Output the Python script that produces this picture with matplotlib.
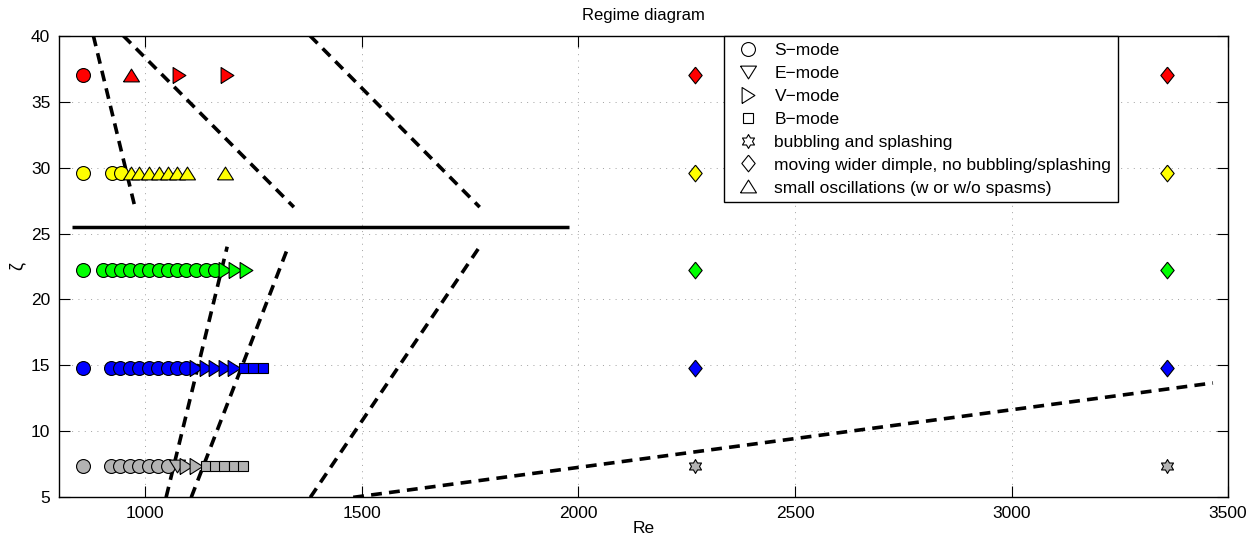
import numpy as np
import matplotlib
matplotlib.use("Agg")
import matplotlib.pyplot as plt
from matplotlib.lines import Line2D

plt.rcParams['font.family'] = ['Liberation Sans', 'DejaVu Sans']

# ---------------- data ----------------
zeta_levels = [37.0, 29.6, 22.2, 14.8, 7.4]
row_colors = ['#ff0000', '#ffff00', '#00ff00', '#0000ff', '#b3b3b3']

# Re values per row and regime (S, E, V, B, bubbling, dimple, small osc.)
red_S = [857]
red_T = [967]
red_V = [1078, 1188]
red_D = [2270, 3360]

yellow_S = [857, 922, 944]
yellow_T = [967, 986, 1008, 1031, 1052, 1074, 1097, 1184]
yellow_D = [2270, 3360]

green_S = [857, 903, 922, 944, 965, 987, 1008, 1031, 1052, 1074, 1095, 1118, 1139, 1161]
green_V = [1185, 1207, 1232]
green_D = [2270, 3360]

blue_S = [857, 921, 942, 964, 986, 1008, 1030, 1052, 1074, 1095]
blue_V = [1118, 1140, 1161, 1184, 1205]
blue_B = [1227, 1249, 1271]
blue_D = [2270, 3360]

gray_S = [857, 921, 942, 964, 986, 1008, 1030, 1052]
gray_E = [1074]
gray_V = [1095, 1118]
gray_B = [1139, 1161, 1182, 1205, 1226]
gray_H = [2270, 3360]

# regime boundaries (Re endpoints, zeta endpoints)
solid_Re = [830, 1978]
solid_zeta = [25.5, 25.5]
dashed_Re = [[880, 976], [949, 1343], [1380, 1772],
             [1048, 1189], [1106, 1330], [1381, 1772], [1480, 3465]]
dashed_zeta = [[40, 27], [40, 27], [40, 27],
               [5, 24], [5, 24], [5, 24], [5, 13.67]]

legend_labels = ['S\u2212mode', 'E\u2212mode', 'V\u2212mode', 'B\u2212mode',
                 'bubbling and splashing',
                 'moving wider dimple, no bubbling/splashing',
                 'small oscillations (w or w/o spasms)']

# ---------------- marker shapes ----------------
tri_up = [(-1, -0.8), (1, -0.8), (0, 0.8), (-1, -0.8)]
tri_down = [(-1, 0.8), (1, 0.8), (0, -0.8), (-1, 0.8)]
tri_right = [(-0.8, -1), (-0.8, 1), (0.8, 0), (-0.8, -1)]
diamond = [(0, 1), (0.8, 0), (0, -1), (-0.8, 0), (0, 1)]
ang = np.pi / 2 + np.arange(12) * np.pi / 6
rad = np.where(np.arange(12) % 2 == 0, 1.0, 0.577)
hexagram = list(zip(rad * np.cos(ang), rad * np.sin(ang)))
hexagram.append(hexagram[0])

styles = {
    'S': dict(marker='o', ms=10.0),
    'E': dict(marker=tri_down, ms=11.5),
    'V': dict(marker=tri_right, ms=11.5),
    'B': dict(marker='s', ms=7.0),
    'H': dict(marker=hexagram, ms=10.0),
    'D': dict(marker=diamond, ms=12.0),
    'T': dict(marker=tri_up, ms=11.5),
}

rows = [
    (zeta_levels[0], row_colors[0], [('S', red_S), ('T', red_T), ('V', red_V), ('D', red_D)]),
    (zeta_levels[1], row_colors[1], [('S', yellow_S), ('T', yellow_T), ('D', yellow_D)]),
    (zeta_levels[2], row_colors[2], [('S', green_S), ('V', green_V), ('D', green_D)]),
    (zeta_levels[3], row_colors[3], [('S', blue_S), ('V', blue_V), ('B', blue_B), ('D', blue_D)]),
    (zeta_levels[4], row_colors[4], [('S', gray_S), ('E', gray_E), ('V', gray_V), ('B', gray_B), ('H', gray_H)]),
]

FS = 12.5

# ---------------- figure ----------------
fig = plt.figure(figsize=(12.57, 5.40), dpi=100)
ax = fig.add_axes([0.0467, 0.079, 0.9303, 0.855])

for zeta, col, groups in rows:
    for key, res in groups:
        st = styles[key]
        for r in res:
            ax.plot([r], [zeta], linestyle='none', marker=st['marker'], ms=st['ms'],
                    mfc=col, mec='black', mew=0.8, zorder=3)

ax.plot(solid_Re, solid_zeta, color='black', lw=2.5, zorder=2, solid_capstyle='butt')
for xs, ys in zip(dashed_Re, dashed_zeta):
    ax.plot(xs, ys, color='black', lw=2.6, dashes=(3.0, 2.0), zorder=2,
            dash_capstyle='butt')

ax.set_xlim(800, 3500)
ax.set_ylim(5, 40)
ax.set_xticks([1000, 1500, 2000, 2500, 3000, 3500])
ax.set_yticks([5, 10, 15, 20, 25, 30, 35, 40])
ax.grid(True, color='#a0a0a0', lw=0.7, dashes=(1, 5.5))
ax.set_axisbelow(True)
ax.tick_params(direction='in', length=8, width=0.8, top=True, right=True,
               labelsize=FS, pad=6)
for s in ax.spines.values():
    s.set_linewidth(1.0)

ax.set_xlabel('Re', fontsize=FS, labelpad=0)
ax.set_ylabel('\u03b6', fontsize=FS + 0.5, labelpad=4)
ax.set_title('Regime diagram', fontsize=FS - 0.5, pad=11)

handle_keys = ['S', 'E', 'V', 'B', 'H', 'D', 'T']
handles = [Line2D([], [], linestyle='none', marker=styles[k]['marker'],
                  ms=styles[k]['ms'], mfc='white', mec='black', mew=0.8)
           for k in handle_keys]
leg = ax.legend(handles, legend_labels, loc='upper left', bbox_to_anchor=(0.569, 1.0),
                borderaxespad=0, fontsize=FS, fancybox=False, framealpha=1,
                edgecolor='black', labelspacing=0.45, handlelength=2.0,
                handletextpad=0.5, borderpad=0.4)
leg.get_frame().set_linewidth(1.0)
leg.set_zorder(5)

fig.savefig('out.png', dpi=100)
